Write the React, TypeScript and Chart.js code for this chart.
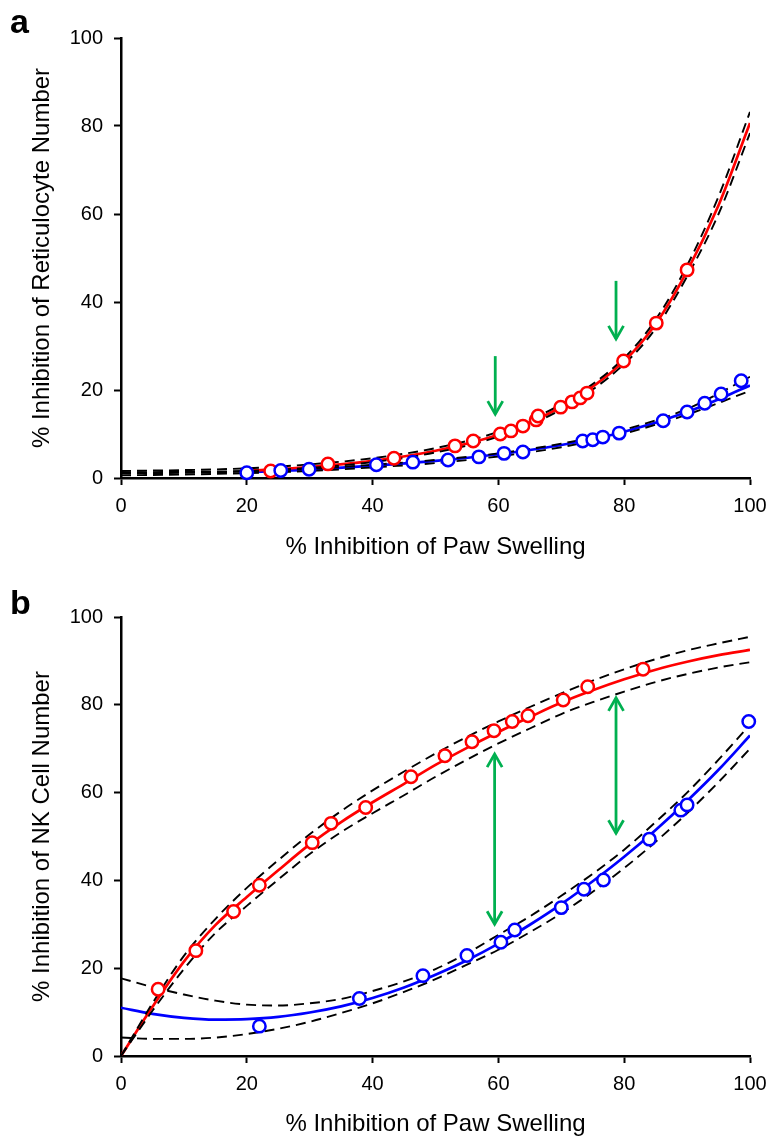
import React, { useEffect, useRef } from 'react';
import { Chart, registerables } from 'chart.js';
Chart.register(...registerables);

const FONT = "'Liberation Sans', Arial, Helvetica, sans-serif";
const RED = '#FF0000';
const BLUE = '#0000FF';
const GREEN = '#00B050';

const X_TICKS_TITLE = '% Inhibition of Paw Swelling';
const A_Y_TITLE = '% Inhibition of Reticulocyte Number';
const B_Y_TITLE = '% Inhibition of NK Cell Number';

// ---------- Panel a: observed points ----------
const aRedX = [23.8, 32.9, 43.4, 53.1, 56.0, 60.3, 62.0, 63.9, 66.0, 66.3, 69.9, 71.7, 73.0, 74.1, 79.9, 85.1, 90.0];
const aRedY = [1.6, 3.2, 4.5, 7.3, 8.4, 10.0, 10.7, 11.8, 13.2, 14.1, 16.1, 17.3, 18.2, 19.3, 26.6, 35.2, 47.3];
const aBlueX = [20.0, 25.4, 29.9, 40.6, 46.4, 52.0, 56.9, 60.9, 63.9, 73.4, 75.0, 76.6, 79.2, 86.2, 90.0, 92.8, 95.4, 98.6];
const aBlueY = [1.2, 1.7, 2.0, 3.0, 3.6, 4.1, 4.8, 5.6, 5.9, 8.4, 8.7, 9.3, 10.2, 13.0, 15.0, 17.0, 19.1, 22.1];

// ---------- Panel a: fitted curves ----------
const aFitX = [20, 30, 40, 50, 60, 70, 80, 85, 90, 95, 100];
const aRedFit = [1.6, 2.5, 3.9, 6.2, 9.9, 16.2, 26.6, 35.0, 47.0, 62.0, 80.7];
const aBlueFitX = [20, 30, 40, 50, 60, 70, 80, 90, 100];
const aBlueFit = [1.3, 1.9, 2.8, 3.9, 5.4, 7.5, 10.5, 15.0, 21.0];
const aBandX = [0, 10, 20, 30, 40, 50, 60, 70, 80, 85, 90, 95, 100];
const aRedUpper = [1.6, 1.8, 2.2, 3.1, 4.5, 6.8, 10.5, 16.8, 27.3, 36.0, 48.3, 64.0, 83.2];
const aRedLower = [1.3, 1.4, 1.6, 2.3, 3.6, 5.8, 9.4, 15.6, 25.9, 34.0, 45.8, 60.0, 78.4];
const aBlueBandX = [0, 10, 20, 30, 40, 50, 60, 70, 80, 90, 100];
const aBlueUpper = [1.0, 1.2, 1.5, 2.1, 3.0, 4.1, 5.6, 7.8, 11.0, 15.7, 23.0];
const aBlueLower = [0.6, 0.8, 1.1, 1.6, 2.4, 3.4, 4.9, 7.0, 10.1, 14.4, 19.8];

// Panel a arrows (x, top y, bottom y)
const aArrowX = [59.5, 78.7];
const aArrowTop = [27.7, 44.8];
const aArrowBottom = [14.3, 31.4];

// ---------- Panel b: observed points ----------
const bRedX = [5.9, 11.9, 17.9, 22.0, 30.4, 33.4, 38.9, 46.1, 51.5, 55.8, 59.3, 62.2, 64.7, 70.3, 74.2, 83.0];
const bRedY = [15.2, 24.0, 32.9, 38.9, 48.6, 53.0, 56.6, 63.6, 68.4, 71.6, 74.1, 76.2, 77.5, 81.1, 84.1, 88.1];
const bBlueX = [22.0, 37.9, 48.0, 55.0, 60.4, 62.6, 70.0, 73.6, 76.7, 84.0, 89.0, 90.0, 99.8];
const bBlueY = [6.8, 13.1, 18.3, 22.9, 25.9, 28.7, 33.8, 38.0, 40.1, 49.4, 56.0, 57.2, 76.2];

// ---------- Panel b: fitted curves ----------
const bFitX = [0, 5, 10, 15, 20, 25, 30, 35, 40, 45, 50, 55, 60, 65, 70, 75, 80, 85, 90, 95, 100];
const bRedFit = [0, 11.2, 21.5, 29.8, 36.2, 42.3, 48.2, 53.3, 57.8, 62.0, 66.3, 70.2, 73.8, 77.2, 80.5, 83.3, 85.8, 88.0, 89.8, 91.3, 92.5];
const bRedUpper = [0, 12.0, 22.8, 31.2, 38.3, 44.6, 50.5, 55.8, 60.5, 64.8, 68.9, 72.7, 76.2, 79.5, 82.6, 85.5, 88.1, 90.4, 92.4, 94.0, 95.5];
const bRedLower = [0, 10.3, 19.8, 28.0, 34.2, 40.2, 46.0, 51.0, 55.3, 59.4, 63.6, 67.5, 71.2, 74.6, 77.9, 80.6, 83.0, 85.2, 87.0, 88.5, 89.7];
const bBlueFit = [11.0, 9.6, 8.7, 8.3, 8.4, 8.9, 9.9, 11.3, 13.2, 15.6, 18.5, 21.8, 25.6, 29.9, 34.6, 39.8, 45.4, 51.5, 58.1, 65.2, 73.0];
const bBlueUpper = [17.7, 15.7, 14.0, 12.6, 11.7, 11.5, 12.0, 13.0, 14.8, 17.0, 19.8, 23.4, 27.6, 31.8, 36.5, 41.5, 47.0, 53.3, 60.0, 67.5, 75.5];
const bBlueLower = [4.2, 3.9, 3.9, 4.2, 5.0, 6.2, 7.8, 9.8, 12.0, 14.6, 17.5, 20.8, 24.2, 28.2, 32.5, 37.4, 42.8, 48.8, 55.3, 62.4, 70.0];

// Panel b double-headed arrows
const bArrowX = [59.4, 78.7];
const bArrowTop = [69.0, 81.8];
const bArrowBottom = [29.8, 50.5];

const TICK_STEP = 20;

function pts(xs: number[], ys: number[]) {
  return xs.map((x, i) => ({ x, y: ys[i] }));
}

function scatterSet(xs: number[], ys: number[], color: string) {
  return {
    data: pts(xs, ys),
    showLine: false,
    pointRadius: 6.2,
    pointHoverRadius: 6.2,
    pointBorderWidth: 2.5,
    pointBorderColor: color,
    pointBackgroundColor: '#ffffff',
    borderColor: color,
    backgroundColor: '#ffffff',
    clip: false as any,
  };
}

function fitSet(xs: number[], ys: number[], color: string) {
  return {
    data: pts(xs, ys),
    showLine: true,
    pointRadius: 0,
    pointHoverRadius: 0,
    borderColor: color,
    borderWidth: 2.7,
    cubicInterpolationMode: 'monotone' as const,
    fill: false,
  };
}

function bandSet(xs: number[], ys: number[]) {
  return {
    data: pts(xs, ys),
    showLine: true,
    pointRadius: 0,
    pointHoverRadius: 0,
    borderColor: '#000000',
    borderWidth: 1.9,
    borderDash: [10, 6],
    cubicInterpolationMode: 'monotone' as const,
    fill: false,
  };
}

function makeScales(yTitle: string, xHeight: number) {
  const tickFont = { family: FONT, size: 20 };
  const titleFont = { family: FONT, size: 24 };
  return {
    x: {
      type: 'linear' as const,
      position: 'bottom' as const,
      min: 0,
      max: 100,
      ticks: { stepSize: TICK_STEP, font: tickFont, color: '#000', padding: 9, maxRotation: 0, autoSkip: false },
      grid: { display: true, drawOnChartArea: false, drawTicks: true, tickLength: 7, tickColor: '#000', tickWidth: 2 },
      border: { display: true, color: '#000', width: 2.5 },
      title: { display: true, text: X_TICKS_TITLE, font: titleFont, color: '#000', padding: { top: 0, bottom: 0 } },
      afterFit: (s: any) => {
        s.height = xHeight;
        s.paddingLeft = 0;
        s.paddingRight = 0;
      },
    },
    y: {
      type: 'linear' as const,
      position: 'left' as const,
      min: 0,
      max: 100,
      ticks: { stepSize: TICK_STEP, font: tickFont, color: '#000', padding: 11 },
      grid: { display: true, drawOnChartArea: false, drawTicks: true, tickLength: 7, tickColor: '#000', tickWidth: 2 },
      border: { display: true, color: '#000', width: 2.5 },
      title: { display: true, text: yTitle, font: titleFont, color: '#000', padding: { top: 28, bottom: 0 } },
      afterFit: (s: any) => {
        s.width = 121;
        s.paddingTop = 0;
        s.paddingBottom = 0;
      },
    },
  };
}

function arrowPlugin(xs: number[], tops: number[], bottoms: number[], both: boolean) {
  return {
    id: 'greenArrows',
    afterDatasetsDraw(chart: any) {
      const { ctx, scales } = chart;
      const xs_ = scales.x;
      const ys_ = scales.y;
      ctx.save();
      ctx.strokeStyle = GREEN;
      ctx.lineWidth = 2.8;
      ctx.lineJoin = 'miter';
      ctx.lineCap = 'butt';
      xs.forEach((xv, i) => {
        const px = xs_.getPixelForValue(xv);
        const pt = ys_.getPixelForValue(tops[i]);
        const pb = ys_.getPixelForValue(bottoms[i]);
        ctx.beginPath();
        ctx.moveTo(px, pt + (both ? 1 : 0));
        ctx.lineTo(px, pb - 1);
        ctx.stroke();
        ctx.beginPath();
        ctx.moveTo(px - 7.5, pb - 14);
        ctx.lineTo(px, pb - 1);
        ctx.lineTo(px + 7.5, pb - 14);
        ctx.stroke();
        if (both) {
          ctx.beginPath();
          ctx.moveTo(px - 7.5, pt + 14);
          ctx.lineTo(px, pt + 1);
          ctx.lineTo(px + 7.5, pt + 14);
          ctx.stroke();
        }
      });
      ctx.restore();
    },
  };
}

function letterPlugin(letter: string, x: number, y: number) {
  return {
    id: 'panelLetter',
    afterDraw(chart: any) {
      const ctx = chart.ctx;
      ctx.save();
      ctx.fillStyle = '#000';
      ctx.font = `bold 34px ${FONT}`;
      ctx.textAlign = 'left';
      ctx.textBaseline = 'alphabetic';
      ctx.fillText(letter, x, y);
      ctx.restore();
    },
  };
}

function baseOptions(yTitle: string, xHeight: number, padding: any) {
  return {
    responsive: false,
    maintainAspectRatio: false,
    animation: false as const,
    devicePixelRatio: 1,
    events: [] as any[],
    layout: { padding },
    plugins: { legend: { display: false }, tooltip: { enabled: false } },
    scales: makeScales(yTitle, xHeight),
  };
}

export default function App() {
  const refA = useRef<HTMLCanvasElement>(null);
  const refB = useRef<HTMLCanvasElement>(null);

  useEffect(() => {
    Chart.defaults.font.family = FONT;
    Chart.defaults.color = '#000';
    const chartA = new Chart(refA.current as HTMLCanvasElement, {
      type: 'scatter',
      data: {
        datasets: [
          scatterSet(aBlueX, aBlueY, BLUE),
          scatterSet(aRedX, aRedY, RED),
          bandSet(aBandX, aRedUpper),
          bandSet(aBandX, aRedLower),
          bandSet(aBlueBandX, aBlueUpper),
          bandSet(aBlueBandX, aBlueLower),
          fitSet(aFitX, aRedFit, RED),
          fitSet(aBlueFitX, aBlueFit, BLUE),
        ] as any,
      },
      options: baseOptions(A_Y_TITLE, 84, { top: 38, right: 21, bottom: 8, left: 0 }) as any,
      plugins: [arrowPlugin(aArrowX, aArrowTop, aArrowBottom, false), letterPlugin('a', 10, 33)],
    });
    const chartB = new Chart(refB.current as HTMLCanvasElement, {
      type: 'scatter',
      data: {
        datasets: [
          scatterSet(bBlueX, bBlueY, BLUE),
          scatterSet(bRedX, bRedY, RED),
          bandSet(bFitX, bRedUpper),
          bandSet(bFitX, bRedLower),
          bandSet(bFitX, bBlueUpper),
          bandSet(bFitX, bBlueLower),
          fitSet(bFitX, bRedFit, RED),
          fitSet(bFitX, bBlueFit, BLUE),
        ] as any,
      },
      options: baseOptions(B_Y_TITLE, 83, { top: 47, right: 21, bottom: 11, left: 0 }) as any,
      plugins: [arrowPlugin(bArrowX, bArrowTop, bArrowBottom, true), letterPlugin('b', 10, 44)],
    });
    return () => {
      chartA.destroy();
      chartB.destroy();
    };
  }, []);

  return (
    <div style={{ position: 'absolute', left: 0, top: 0, width: 771, height: 1137, overflow: 'hidden', background: '#fff' }}>
      <canvas ref={refA} width={771} height={570} style={{ position: 'absolute', left: 0, top: 0, width: 771, height: 570 }} />
      <canvas ref={refB} width={771} height={580} style={{ position: 'absolute', left: 0, top: 570, width: 771, height: 580 }} />
    </div>
  );
}
